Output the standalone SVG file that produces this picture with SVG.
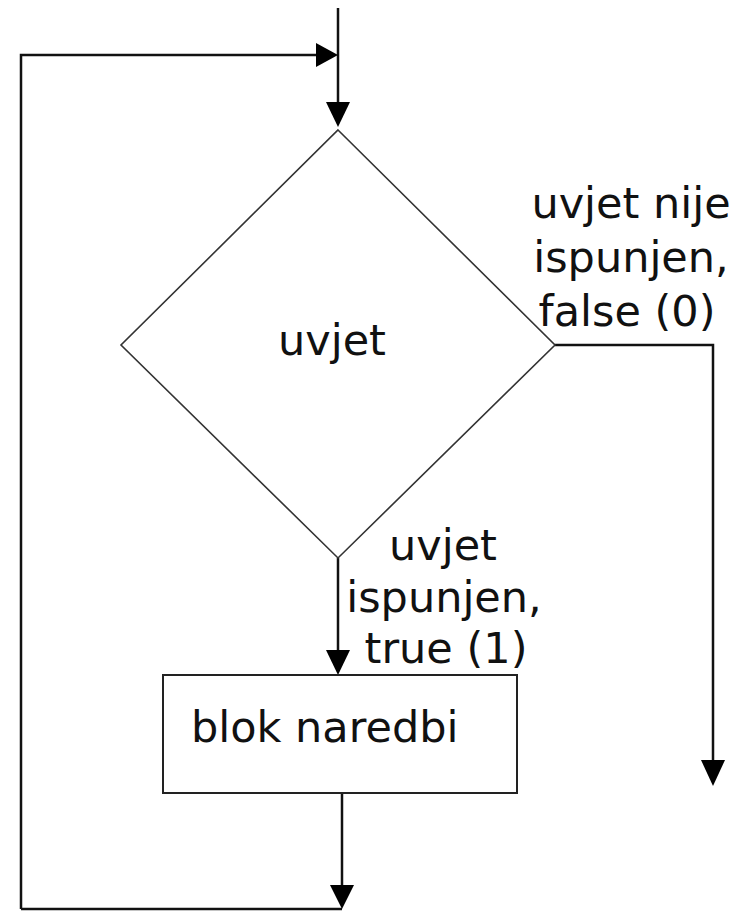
<svg xmlns="http://www.w3.org/2000/svg" width="743" height="912" viewBox="0 0 743 912">
<style>
.ln{fill:none;stroke:#111;stroke-width:2.5}
.shape{fill:#fff;stroke:#222;stroke-width:2}
.dia{fill:#fff;stroke:#333;stroke-width:1.6}
.ah{fill:#000}
text{font-family:"DejaVu Sans","Verdana",sans-serif;font-size:43px;fill:#111}
</style>
<rect width="743" height="912" fill="#fff"/>
<g id="connectors">
<path class="ln" d="M338,8 V104"/>
<polygon class="ah" points="326,102 350,102 338,127"/>
<path class="ln" d="M21,909 V55 H318"/>
<polygon class="ah" points="316,43 316,67 338,55"/>
<path class="ln" d="M555,345 H713 V762"/>
<polygon class="ah" points="701,760 725,760 713,786"/>
<path class="ln" d="M338,558 V652"/>
<polygon class="ah" points="326,650 350,650 338,675"/>
<path class="ln" d="M342,793 V888"/>
<path class="ln" d="M342,909 H21"/>
<polygon class="ah" points="330,885 354,885 342,909"/>
</g>
<g id="decision">
<polygon class="dia" points="338,130 555,345 338,558 121,345"/>
<text x="332" y="355" text-anchor="middle">uvjet</text>
</g>
<g id="block">
<rect class="shape" x="163" y="675" width="354" height="118"/>
<text x="191" y="742">blok naredbi</text>
</g>
<g id="label-false">
<text x="631" y="218" text-anchor="middle">uvjet nije</text>
<text x="631" y="272" text-anchor="middle">ispunjen,</text>
<text x="627" y="326" text-anchor="middle">false (0)</text>
</g>
<g id="label-true">
<text x="443" y="560" text-anchor="middle">uvjet</text>
<text x="444" y="612" text-anchor="middle">ispunjen,</text>
<text x="446" y="663" text-anchor="middle">true (1)</text>
</g>
</svg>
